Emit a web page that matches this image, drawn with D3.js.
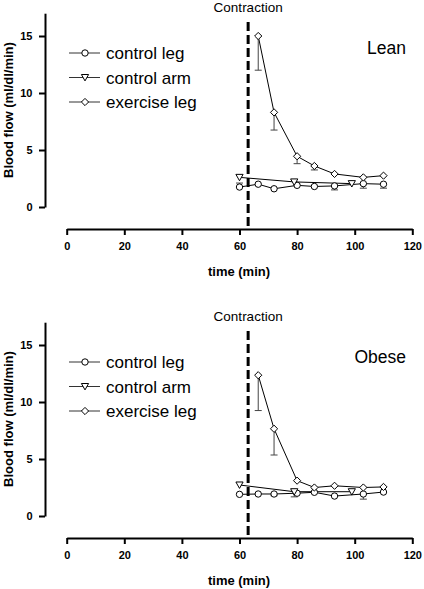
<!DOCTYPE html>
<html>
<head>
<meta charset="utf-8">
<script src="https://cdn.jsdelivr.net/npm/d3@7"></script>
<style>
  html, body { margin: 0; padding: 0; background: #fff; }
  svg { display: block; font-family: "Liberation Sans", Arial, sans-serif; }
</style>
</head>
<body>
<svg id="chart" width="424" height="589"></svg>
<script>
// ---------- DATA ----------
const xTicks = [0, 20, 40, 60, 80, 100, 120];
const yTicks = [0, 5, 10, 15];
const contractionTime = 63;
const seriesNames = ["control leg", "control arm", "exercise leg"];

// Lean
const leanLegT = [60, 66.5, 72, 80, 86, 93, 103, 110];
const leanLegV = [1.75, 2.0, 1.6, 1.9, 1.8, 1.85, 2.05, 2.0];
const leanLegE = [0.35, 0, 0, 0, 0, -0.35, -0.4, -0.35];
const leanArmT = [60, 79, 99];
const leanArmV = [2.6, 2.2, 2.05];
const leanArmE = [0, 0, 0];
const leanExT = [66.5, 72, 80, 86, 93, 103, 110];
const leanExV = [15.0, 8.3, 4.45, 3.6, 2.9, 2.6, 2.75];
const leanExE = [-3.0, -1.55, -0.65, -0.35, 0, 0, 0];

// Obese
const obLegT = [60, 66.5, 72, 80, 86, 93, 103, 110];
const obLegV = [1.9, 1.93, 1.93, 2.0, 2.08, 1.75, 1.93, 2.1];
const obLegE = [0, 0, -0.15, 0, 0, 0, -0.45, 0];
const obArmT = [60, 79, 99];
const obArmV = [2.72, 2.13, 2.13];
const obArmE = [0, -0.45, 0];
const obExT = [66.5, 72, 80, 86, 93, 103, 110];
const obExV = [12.35, 7.65, 3.1, 2.5, 2.65, 2.5, 2.55];
const obExE = [-3.1, -2.3, 0, 0, 0, 0, 0];

// ---------- DRAW ----------
const svg = d3.select("#chart");
const x = d3.scaleLinear().domain([0, 120]).range([66.7, 412.3]);
const y = d3.scaleLinear().domain([0, 17]).range([207, 13.2]);

const diamondPath = "M0,-3.6L3.6,0L0,3.6L-3.6,0Z";
const trianglePath = "M-3.6,-3L3.6,-3L0,3.4Z";

function marker(g, type, cx, cy) {
  if (type === "circle") {
    g.append("circle").attr("cx", cx).attr("cy", cy).attr("r", 3.2)
      .attr("fill", "#fff").attr("stroke", "#000").attr("stroke-width", 1);
  } else {
    g.append("path").attr("d", type === "diamond" ? diamondPath : trianglePath)
      .attr("transform", `translate(${cx},${cy})`)
      .attr("fill", "#fff").attr("stroke", "#000").attr("stroke-width", 1);
  }
}

function zip(T, V, E) { return T.map((t, i) => ({ t, v: V[i], e: E[i] })); }

function drawPanel(offsetY, label, groups) {
  const g = svg.append("g").attr("transform", `translate(0,${offsetY})`);

  // y axis
  const ya = g.append("g").attr("transform", "translate(45,0)")
    .call(d3.axisLeft(y).tickValues(yTicks).tickSize(6).tickSizeOuter(0).tickPadding(6.5));
  ya.select(".domain").attr("stroke-width", 2);
  ya.selectAll(".tick line").attr("stroke-width", 2);
  ya.selectAll(".tick text").attr("font-size", 11).attr("font-weight", "bold")
    .attr("font-family", "Liberation Sans, Arial, sans-serif");

  // x axis
  const xa = g.append("g").attr("transform", "translate(0,229)")
    .call(d3.axisBottom(x).tickValues(xTicks).tickSize(6).tickSizeOuter(0).tickPadding(7));
  xa.select(".domain").attr("stroke-width", 2);
  xa.selectAll(".tick line").attr("stroke-width", 2);
  xa.selectAll(".tick text").attr("font-size", 11).attr("font-weight", "bold")
    .attr("font-family", "Liberation Sans, Arial, sans-serif");

  // axis titles
  g.append("text").attr("transform", "translate(12.5,110) rotate(-90)")
    .attr("text-anchor", "middle").attr("font-size", 13).attr("font-weight", "bold")
    .text("Blood flow (ml/dl/min)");
  g.append("text").attr("x", 239).attr("y", 276).attr("text-anchor", "middle")
    .attr("font-size", 13).attr("font-weight", "bold").text("time (min)");

  // contraction line
  g.append("line").attr("x1", x(contractionTime)).attr("x2", x(contractionTime))
    .attr("y1", 22).attr("y2", 229).attr("stroke", "#000").attr("stroke-width", 3)
    .attr("stroke-dasharray", "9,4");
  g.append("text").attr("x", x(contractionTime)).attr("y", 12).attr("text-anchor", "middle")
    .attr("font-size", 13.5).text("Contraction");

  // panel label
  g.append("text").attr("x", 406).attr("y", 54).attr("text-anchor", "end")
    .attr("font-size", 17.5).text(label);

  const line = d3.line().x(d => x(d.t)).y(d => y(d.v));

  // lines
  groups.forEach(s => {
    g.append("path").datum(s.data).attr("d", line).attr("fill", "none")
      .attr("stroke", "#000").attr("stroke-width", 1);
  });
  // error bars
  groups.forEach(s => {
    s.data.filter(d => d.e !== 0).forEach(d => {
      const cx = x(d.t), y0 = y(d.v), y1 = y(d.v + d.e);
      g.append("line").attr("x1", cx).attr("x2", cx).attr("y1", y0).attr("y2", y1)
        .attr("stroke", "#444").attr("stroke-width", 1);
      g.append("line").attr("x1", cx - 3.5).attr("x2", cx + 3.5).attr("y1", y1).attr("y2", y1)
        .attr("stroke", "#444").attr("stroke-width", 1);
    });
  });
  // markers
  groups.forEach(s => {
    s.data.forEach(d => marker(g, s.type, x(d.t), y(d.v)));
  });

  // legend
  const legY = [53, 77.5, 102];
  const types = ["circle", "triangle", "diamond"];
  seriesNames.forEach((name, i) => {
    g.append("line").attr("x1", 69).attr("x2", 100).attr("y1", legY[i]).attr("y2", legY[i])
      .attr("stroke", "#333").attr("stroke-width", 1);
    marker(g, types[i], 85, legY[i]);
    g.append("text").attr("x", 106).attr("y", legY[i] + 6).attr("font-size", 17).text(name);
  });
}

drawPanel(0, "Lean", [
  { type: "circle", data: zip(leanLegT, leanLegV, leanLegE) },
  { type: "triangle", data: zip(leanArmT, leanArmV, leanArmE) },
  { type: "diamond", data: zip(leanExT, leanExV, leanExE) }
]);
drawPanel(309, "Obese", [
  { type: "circle", data: zip(obLegT, obLegV, obLegE) },
  { type: "triangle", data: zip(obArmT, obArmV, obArmE) },
  { type: "diamond", data: zip(obExT, obExV, obExE) }
]);
</script>
</body>
</html>
